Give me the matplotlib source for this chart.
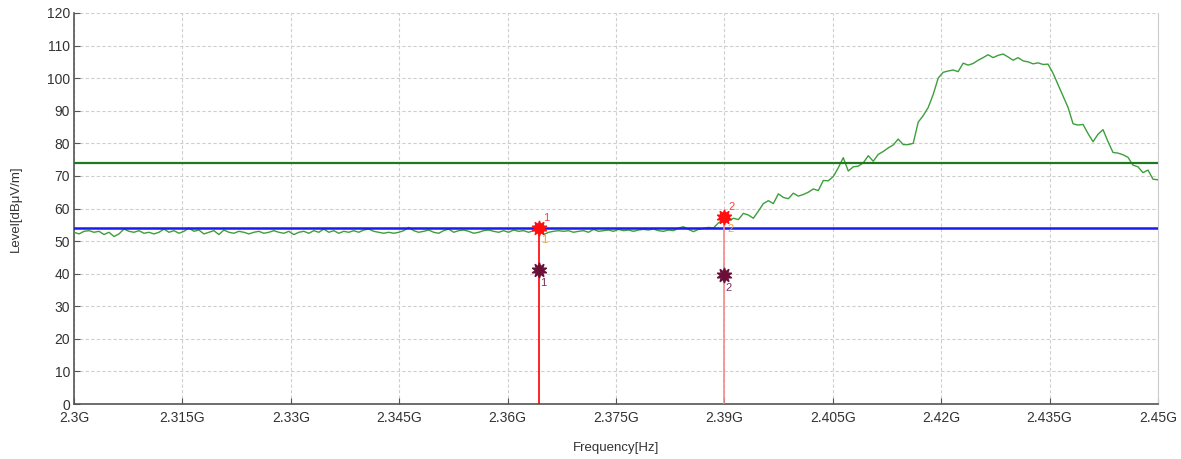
import numpy as np
import matplotlib
matplotlib.use("Agg")
import matplotlib.pyplot as plt

# sweep 2.30 - 2.45 GHz, levels in dBuV/m
f_start, f_stop = 2.300, 2.450
level = [
    52.7, 52.2, 53.0, 53.2, 52.7, 53.0, 52.0, 52.7, 51.4, 52.2,
    53.7, 53.0, 52.7, 53.2, 52.4, 52.7, 52.2, 52.7, 53.7, 52.7,
    53.2, 52.4, 53.0, 54.0, 53.0, 53.4, 52.2, 52.7, 53.2, 52.0,
    53.4, 52.7, 52.4, 53.0, 52.7, 52.2, 52.7, 53.0, 52.4, 52.7,
    53.2, 52.7, 52.4, 53.0, 52.0, 52.7, 53.0, 52.4, 53.2, 52.7,
    53.7, 52.7, 53.2, 52.4, 53.0, 52.7, 53.2, 52.7, 53.4, 53.7,
    53.0, 52.7, 52.4, 52.7, 52.4, 52.7, 53.2, 54.2, 53.2, 52.7,
    53.0, 53.4, 52.7, 52.4, 53.2, 53.7, 52.7, 53.2, 53.4, 53.0,
    52.4, 52.7, 53.2, 53.4, 53.0, 52.7, 53.2, 52.7, 53.4, 53.0,
    53.2, 52.7, 53.2, 53.7, 52.0, 52.7, 53.0, 53.2, 53.0, 53.2,
    52.7, 53.0, 53.2, 52.7, 53.6, 53.0, 53.2, 53.4, 53.0, 53.6,
    53.2, 53.4, 53.0, 53.4, 53.6, 53.4, 53.7, 53.2, 53.0, 53.4,
    53.2, 54.0, 54.4, 53.6, 52.9, 53.6, 53.9, 54.2, 54.0, 55.6,
    56.5, 56.2, 57.0, 56.6, 58.5, 58.0, 57.0, 59.2, 61.5, 62.4,
    61.5, 64.5, 63.4, 63.0, 64.7, 63.8, 64.3, 65.0, 66.0, 65.5,
    68.6, 68.5, 69.8, 72.5, 75.6, 71.5, 72.8, 73.0, 74.0, 76.2,
    74.5, 76.6, 77.5, 78.6, 79.5, 81.3, 79.6, 79.6, 80.0, 86.5,
    88.5, 91.0, 95.0, 100.0, 101.8, 102.2, 102.5, 102.0, 104.6, 104.0,
    104.5, 105.5, 106.3, 107.2, 106.3, 107.0, 107.4, 106.5, 105.5, 106.3,
    105.3, 105.0, 104.4, 104.7, 104.2, 104.3, 101.5, 98.0, 94.5, 91.0,
    86.0, 85.6, 85.8, 83.0, 80.5, 82.8, 84.2, 80.5, 77.2, 77.0,
    76.5, 75.7, 73.3, 72.8, 71.0, 71.8, 69.0, 68.8,
]
freq = np.linspace(f_start, f_stop, len(level))

peak_limit = 74
avg_limit = 54

marker_freq = [2.3643, 2.390]
marker_peak = [54.0, 57.5]
marker_avg = [41.0, 39.5]
marker_line_colors = ["#ff0000", "#f48a8a"]

x_ticks = [2.3 + 0.015 * k for k in range(11)]
y_ticks = list(range(0, 121, 10))

plt.rcParams["font.family"] = ["Liberation Sans", "DejaVu Sans"]
text_color = "#333333"

fig = plt.figure(figsize=(11.81, 4.59), dpi=100)
ax = fig.add_axes([0.0627, 0.1198, 0.9178, 0.8519])

ax.plot(freq, level, color="#3c9f3c", lw=1.0, zorder=3)
ax.axhline(peak_limit, color="#1f7a1f", lw=1.6, zorder=4)
ax.axhline(avg_limit, color="#1a1aee", lw=1.8, zorder=4)

for k, (mf, mp, ma) in enumerate(zip(marker_freq, marker_peak, marker_avg)):
    n = str(k + 1)
    ax.plot([mf, mf], [0, mp], color=marker_line_colors[k], lw=1.2, zorder=5)
    ax.plot(mf, mp, marker=(10, 1, 0), ms=11, color="#ff1010", mec="#ff1010", zorder=6)
    ax.plot(mf, mp, marker="o", ms=7, color="#ff1010", zorder=6)
    ax.plot(mf, ma, marker=(10, 1, 0), ms=11, color="#6a1038", mec="#6a1038", zorder=6)
    ax.annotate(n, (mf, mp), xytext=(3, 5), textcoords="offset points",
                fontsize=8, color="#ff4040", zorder=7)
    ax.annotate(n, (mf, mp), xytext=(2, -11), textcoords="offset points",
                fontsize=8, color="#f0a040", zorder=7)
    ax.annotate(n, (mf, ma), xytext=(1, -11), textcoords="offset points",
                fontsize=8, color="#7a3060", zorder=7)

ax.set_xlim(f_start, f_stop)
ax.set_ylim(0, 120)
ax.set_xticks(x_ticks)
ax.set_xticklabels([f"{v:g}G" for v in np.round(x_ticks, 3)])
ax.set_yticks(y_ticks)
ax.grid(True, color="#cfcfcf", ls=(0, (3, 2)), lw=0.8)
ax.tick_params(axis="both", direction="in", length=4, color="#555555",
               labelsize=10, labelcolor=text_color)
ax.tick_params(axis="x", pad=5)
ax.tick_params(axis="y", pad=3)

for side in ["left", "bottom"]:
    ax.spines[side].set_color("#555555")
    ax.spines[side].set_linewidth(1.2)
ax.spines["right"].set_color("#cccccc")
ax.spines["top"].set_visible(False)

ax.set_xlabel("Frequency[Hz]", fontsize=9.5, color=text_color, labelpad=12)
ax.set_ylabel("Level[dBμV/m]", fontsize=9.5, color=text_color, labelpad=18)

fig.savefig("out.png", dpi=100)
